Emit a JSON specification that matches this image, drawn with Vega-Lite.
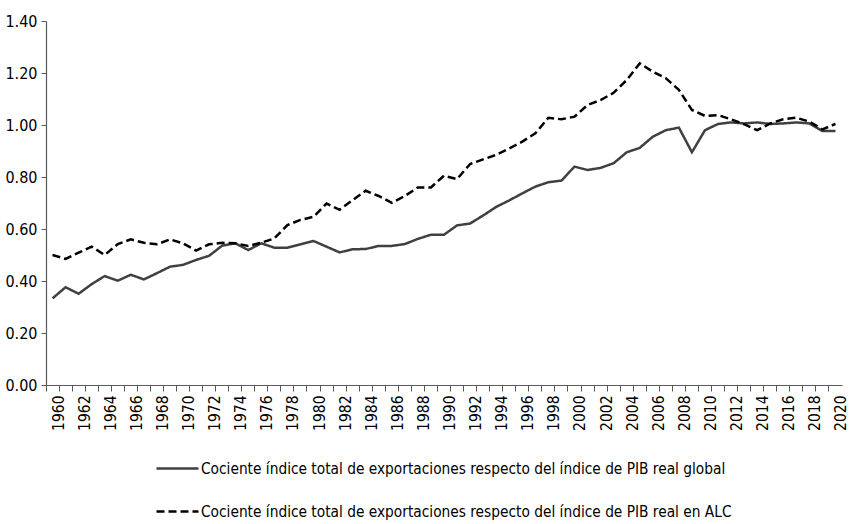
{
  "$schema": "https://vega.github.io/schema/vega-lite/v6.json",
  "autosize": {"type": "none"},
  "width": 796,
  "height": 364,
  "padding": {"left": 46, "top": 21, "right": 8, "bottom": 139},
  "background": "white",
  "config": {
    "font": "DejaVu Sans Condensed, Roboto Condensed, Liberation Sans Narrow, Roboto",
    "view": {"stroke": null}
  },
  "datasets": {
    "d": [
      {"s":"g","year":1960,"v":0.333},{"s":"g","year":1961,"v":0.376},{"s":"g","year":1962,"v":0.351},{"s":"g","year":1963,"v":0.388},{"s":"g","year":1964,"v":0.419},
      {"s":"g","year":1965,"v":0.401},{"s":"g","year":1966,"v":0.424},{"s":"g","year":1967,"v":0.406},{"s":"g","year":1968,"v":0.430},{"s":"g","year":1969,"v":0.455},
      {"s":"g","year":1970,"v":0.462},{"s":"g","year":1971,"v":0.481},{"s":"g","year":1972,"v":0.497},{"s":"g","year":1973,"v":0.536},{"s":"g","year":1974,"v":0.545},
      {"s":"g","year":1975,"v":0.519},{"s":"g","year":1976,"v":0.545},{"s":"g","year":1977,"v":0.528},{"s":"g","year":1978,"v":0.528},{"s":"g","year":1979,"v":0.541},
      {"s":"g","year":1980,"v":0.554},{"s":"g","year":1981,"v":0.532},{"s":"g","year":1982,"v":0.510},{"s":"g","year":1983,"v":0.522},{"s":"g","year":1984,"v":0.523},
      {"s":"g","year":1985,"v":0.535},{"s":"g","year":1986,"v":0.535},{"s":"g","year":1987,"v":0.542},{"s":"g","year":1988,"v":0.562},{"s":"g","year":1989,"v":0.578},
      {"s":"g","year":1990,"v":0.578},{"s":"g","year":1991,"v":0.614},{"s":"g","year":1992,"v":0.621},{"s":"g","year":1993,"v":0.652},{"s":"g","year":1994,"v":0.685},
      {"s":"g","year":1995,"v":0.710},{"s":"g","year":1996,"v":0.737},{"s":"g","year":1997,"v":0.763},{"s":"g","year":1998,"v":0.780},{"s":"g","year":1999,"v":0.786},
      {"s":"g","year":2000,"v":0.840},{"s":"g","year":2001,"v":0.827},{"s":"g","year":2002,"v":0.835},{"s":"g","year":2003,"v":0.853},{"s":"g","year":2004,"v":0.895},
      {"s":"g","year":2005,"v":0.912},{"s":"g","year":2006,"v":0.955},{"s":"g","year":2007,"v":0.980},{"s":"g","year":2008,"v":0.990},{"s":"g","year":2009,"v":0.895},
      {"s":"g","year":2010,"v":0.980},{"s":"g","year":2011,"v":1.004},{"s":"g","year":2012,"v":1.010},{"s":"g","year":2013,"v":1.006},{"s":"g","year":2014,"v":1.010},
      {"s":"g","year":2015,"v":1.004},{"s":"g","year":2016,"v":1.006},{"s":"g","year":2017,"v":1.010},{"s":"g","year":2018,"v":1.006},{"s":"g","year":2019,"v":0.977},
      {"s":"g","year":2020,"v":0.977},
      {"s":"a","year":1960,"v":0.500},{"s":"a","year":1961,"v":0.485},{"s":"a","year":1962,"v":0.509},{"s":"a","year":1963,"v":0.532},{"s":"a","year":1964,"v":0.500},
      {"s":"a","year":1965,"v":0.542},{"s":"a","year":1966,"v":0.560},{"s":"a","year":1967,"v":0.547},{"s":"a","year":1968,"v":0.541},{"s":"a","year":1969,"v":0.560},
      {"s":"a","year":1970,"v":0.545},{"s":"a","year":1971,"v":0.517},{"s":"a","year":1972,"v":0.541},{"s":"a","year":1973,"v":0.547},{"s":"a","year":1974,"v":0.545},
      {"s":"a","year":1975,"v":0.535},{"s":"a","year":1976,"v":0.547},{"s":"a","year":1977,"v":0.564},{"s":"a","year":1978,"v":0.615},{"s":"a","year":1979,"v":0.635},
      {"s":"a","year":1980,"v":0.647},{"s":"a","year":1981,"v":0.698},{"s":"a","year":1982,"v":0.674},{"s":"a","year":1983,"v":0.711},{"s":"a","year":1984,"v":0.747},
      {"s":"a","year":1985,"v":0.727},{"s":"a","year":1986,"v":0.701},{"s":"a","year":1987,"v":0.727},{"s":"a","year":1988,"v":0.760},{"s":"a","year":1989,"v":0.760},
      {"s":"a","year":1990,"v":0.805},{"s":"a","year":1991,"v":0.792},{"s":"a","year":1992,"v":0.850},{"s":"a","year":1993,"v":0.868},{"s":"a","year":1994,"v":0.885},
      {"s":"a","year":1995,"v":0.910},{"s":"a","year":1996,"v":0.936},{"s":"a","year":1997,"v":0.968},{"s":"a","year":1998,"v":1.028},{"s":"a","year":1999,"v":1.022},
      {"s":"a","year":2000,"v":1.032},{"s":"a","year":2001,"v":1.077},{"s":"a","year":2002,"v":1.096},{"s":"a","year":2003,"v":1.124},{"s":"a","year":2004,"v":1.173},
      {"s":"a","year":2005,"v":1.237},{"s":"a","year":2006,"v":1.205},{"s":"a","year":2007,"v":1.180},{"s":"a","year":2008,"v":1.135},{"s":"a","year":2009,"v":1.058},
      {"s":"a","year":2010,"v":1.035},{"s":"a","year":2011,"v":1.038},{"s":"a","year":2012,"v":1.022},{"s":"a","year":2013,"v":1.003},{"s":"a","year":2014,"v":0.980},
      {"s":"a","year":2015,"v":1.006},{"s":"a","year":2016,"v":1.022},{"s":"a","year":2017,"v":1.028},{"s":"a","year":2018,"v":1.013},{"s":"a","year":2019,"v":0.983},
      {"s":"a","year":2020,"v":1.004}
    ]
  },
  "data": {"name": "d"},
  "mark": {"type": "line", "strokeWidth": 2.5, "strokeJoin": "miter"},
  "encoding": {
    "x": {
      "field": "year",
      "type": "ordinal",
      "scale": {"type": "band", "paddingInner": 0, "paddingOuter": 0},
      "axis": {
        "title": null,
        "bandPosition": 0,
        "labelOffset": 6,
        "labelAngle": -90,
        "labelAlign": "right",
        "labelBaseline": "middle",
        "labelFontSize": 15.5,
        "labelColor": "#000000",
        "labelPadding": 4,
        "labelExpr": "datum.value % 2 == 0 ? datum.value : ''",
        "labelOverlap": false,
        "tickSize": 6,
        "tickColor": "#595959",
        "domainColor": "#595959",
        "tickWidth": 1,
        "domainWidth": 1.2,
        "grid": false
      }
    },
    "y": {
      "field": "v",
      "type": "quantitative",
      "scale": {"domain": [0, 1.4], "nice": false},
      "axis": {
        "title": null,
        "values": [0, 0.2, 0.4, 0.6, 0.8, 1.0, 1.2, 1.4],
        "format": ".2f",
        "labelFontSize": 16,
        "labelColor": "#000000",
        "labelPadding": 4,
        "tickSize": 5,
        "tickColor": "#595959",
        "domainColor": "#595959",
        "domainWidth": 1.2,
        "grid": false
      }
    },
    "color": {
      "field": "s",
      "type": "nominal",
      "scale": {"domain": ["g", "a"], "range": ["#404040", "#000000"]},
      "legend": {
        "title": null,
        "orient": "none",
        "legendX": 109,
        "legendY": 425,
        "direction": "vertical",
        "symbolType": "stroke",
        "symbolSize": 1764,
        "symbolStrokeWidth": 2.5,
        "labelFontSize": 15.3,
        "labelColor": "#000000",
        "labelLimit": 700,
        "labelOffset": 1,
        "rowPadding": 12,
        "labelExpr": "datum.value == 'g' ? 'Cociente índice total de exportaciones respecto del índice de PIB real global' : 'Cociente índice total de exportaciones respecto del índice de PIB real en ALC'"
      }
    },
    "strokeDash": {
      "field": "s",
      "type": "nominal",
      "scale": {"domain": ["g", "a"], "range": [[1, 0], [8, 4]]},
      "legend": null
    }
  }
}
